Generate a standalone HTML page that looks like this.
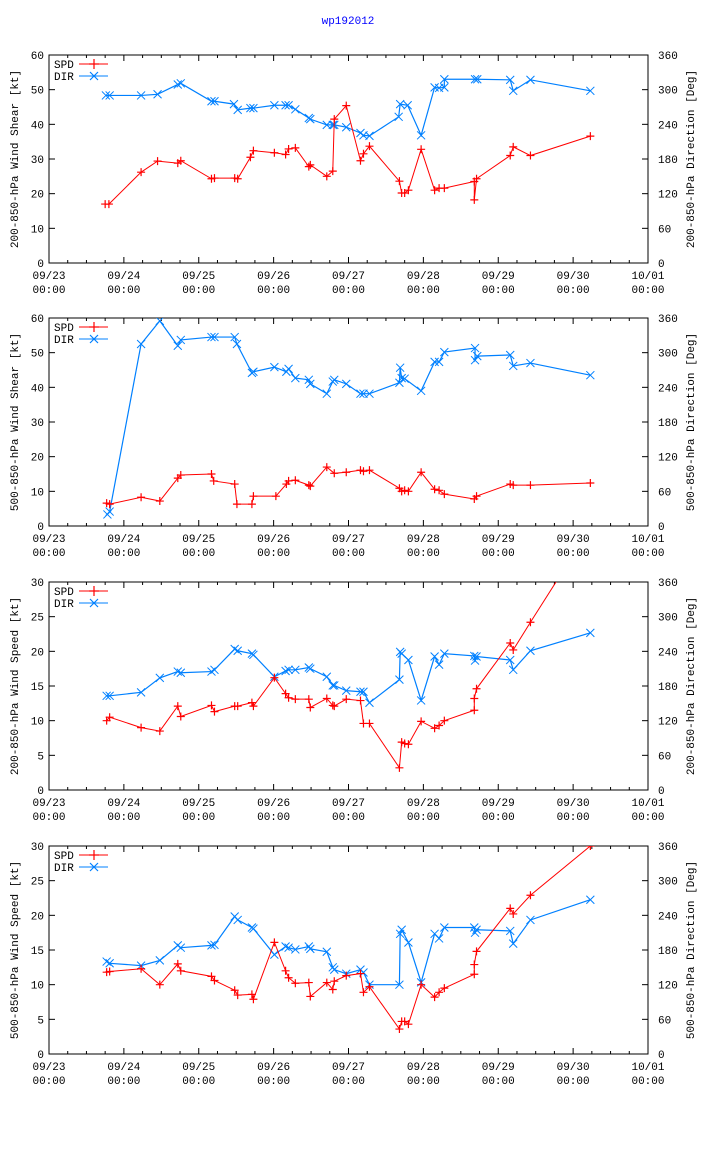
<!DOCTYPE html>
<html><head><meta charset="utf-8"><style>
body{margin:0;background:#fff;}
svg{display:block;font-family:"Liberation Mono","DejaVu Sans Mono",monospace;font-size:11px;}
</style></head><body>
<svg id="chart" width="704" height="1156" viewBox="0 0 704 1156" xmlns="http://www.w3.org/2000/svg">
<rect width="704" height="1156" fill="#fff"/>
<text x="348" y="24" text-anchor="middle" fill="#0000ff">wp192012</text>
</svg>
<script>
// Day offsets from 09/23 00:00
const xTickLabels=["09/23","09/24","09/25","09/26","09/27","09/28","09/29","09/30","10/01"];
const dirTicks=[0,60,120,180,240,300,360];
const yTitles=["200-850-hPa Wind Shear [kt]","500-850-hPa Wind Shear [kt]","200-850-hPa Wind Speed [kt]","500-850-hPa Wind Speed [kt]"];
const y2Titles=["200-850-hPa Direction [Deg]","500-850-hPa Direction [Deg]","200-850-hPa Direction [Deg]","500-850-hPa Direction [Deg]"];
const yMax=[60,60,30,30];
const yStep=[10,10,5,5];

const spd1T=[0.75,0.8,1.23,1.45,1.72,1.76,2.17,2.21,2.48,2.52,2.69,2.73,3.01,3.16,3.2,3.29,3.47,3.49,3.71,3.79,3.81,3.97,4.16,4.2,4.28,4.68,4.71,4.75,4.8,4.97,5.15,5.21,5.28,5.68,5.68,5.71,6.16,6.2,6.43,7.23];
const spd1V=[17,17,26.2,29.4,28.8,29.5,24.3,24.5,24.5,24.3,30.5,32.4,31.8,31.3,32.9,33.2,27.8,28.3,25,26.5,41.5,45.4,29.5,31.5,33.7,23.6,20.2,20.2,21,32.8,21,21.6,21.6,23.5,18.2,24.3,31,33.5,31,36.6];
const dir1T=[0.76,0.81,1.23,1.45,1.72,1.76,2.17,2.21,2.47,2.52,2.69,2.73,3.01,3.16,3.2,3.29,3.47,3.49,3.71,3.79,3.81,3.97,4.16,4.2,4.28,4.67,4.69,4.79,4.97,5.15,5.21,5.28,5.28,5.69,5.72,6.16,6.2,6.43,7.23];
const dir1V=[290,290,290,292,309,311,280,280,275,265,268,268,273,273,273,266,251,249,239,239,239,235,225,221,220,253,275,273,221,304,303,304,318,318,318,317,298,317,298];

const spd2T=[0.77,0.81,1.23,1.48,1.72,1.76,2.17,2.2,2.48,2.51,2.71,2.73,3.03,3.17,3.2,3.29,3.47,3.49,3.71,3.81,3.97,4.16,4.2,4.28,4.68,4.71,4.75,4.8,4.97,5.15,5.21,5.28,5.68,5.71,6.16,6.2,6.43,7.23];
const spd2V=[6.6,6.3,8.3,7.2,13.8,14.7,15,13,12.1,6.3,6.3,8.6,8.6,12.1,13,13.2,11.8,11.5,17,15.2,15.5,16.1,15.8,16.1,10.9,10,10.3,10,15.5,10.6,10.3,9.2,7.8,8.6,12.1,11.8,11.8,12.4];
const dir2T=[0.78,0.81,1.23,1.48,1.72,1.76,2.17,2.21,2.48,2.51,2.71,2.73,3.01,3.17,3.2,3.29,3.47,3.49,3.71,3.79,3.81,3.97,4.16,4.2,4.28,4.68,4.69,4.71,4.75,4.97,5.15,5.21,5.28,5.69,5.69,5.72,6.16,6.2,6.43,7.23];
const dir2V=[20,25,315,355,312,322,327,327,327,315,265,267,275,267,272,256,253,246,229,250,253,246,229,229,229,248,274,256,255,234,284,284,301,308,287,294,296,277,282,261];

const spd3T=[0.77,0.81,1.23,1.48,1.72,1.76,2.17,2.21,2.48,2.52,2.71,2.73,3.01,3.16,3.2,3.29,3.47,3.49,3.71,3.79,3.81,3.97,4.16,4.2,4.28,4.68,4.71,4.75,4.8,4.97,5.15,5.21,5.28,5.68,5.68,5.71,6.16,6.2,6.43,7.23];
const spd3V=[10,10.5,9,8.5,12.1,10.6,12.2,11.3,12.1,12.1,12.6,12.1,16.2,13.9,13.3,13.1,13.1,11.9,13.2,12.2,12.1,13.1,12.9,9.6,9.6,3.2,6.9,6.7,6.6,9.9,8.9,9.3,10,11.5,13.2,14.6,21.2,20.2,24.2,37.8];
const dir3T=[0.77,0.81,1.23,1.48,1.72,1.76,2.17,2.21,2.48,2.52,2.71,2.73,3.01,3.16,3.2,3.29,3.47,3.49,3.71,3.79,3.81,3.97,4.16,4.2,4.28,4.68,4.69,4.71,4.8,4.97,5.15,5.21,5.28,5.68,5.69,5.71,6.16,6.2,6.43,7.23];
const dir3V=[163,163,169,194,205,203,205,208,244,241,236,234,196,206,208,208,212,210,196,181,181,172,170,170,151,191,239,236,225,155,231,217,236,232,224,231,225,208,241,272];

const spd4T=[0.77,0.81,1.23,1.48,1.72,1.76,2.17,2.21,2.48,2.52,2.71,2.73,3.01,3.16,3.2,3.29,3.47,3.49,3.71,3.79,3.81,3.97,4.16,4.2,4.28,4.68,4.71,4.75,4.8,4.97,5.15,5.21,5.28,5.68,5.68,5.71,6.16,6.2,6.43,7.23];
const spd4V=[11.8,11.9,12.3,10,13,12,11.2,10.6,9.2,8.5,8.6,7.9,16.1,12,11,10.2,10.3,8.3,10.3,9.3,10.5,11.3,11.6,8.9,9.7,3.6,4.7,4.7,4.3,10,8.2,8.9,9.5,11.5,12.9,14.8,21,20.2,22.9,30];
const dir4T=[0.77,0.81,1.23,1.48,1.72,1.76,2.17,2.21,2.48,2.52,2.71,2.73,3.01,3.16,3.2,3.29,3.47,3.49,3.71,3.79,3.81,3.97,4.16,4.2,4.28,4.68,4.69,4.71,4.8,4.97,5.15,5.21,5.28,5.68,5.69,5.71,6.16,6.2,6.43,7.23];
const dir4V=[160,157,153,162,188,184,188,189,238,232,219,217,172,186,184,181,186,182,177,150,146,139,146,141,120,120,208,215,193,124,208,200,219,219,210,215,213,191,232,267];

const panels=[[spd1T,spd1V,dir1T,dir1V],[spd2T,spd2V,dir2T,dir2V],[spd3T,spd3V,dir3T,dir3V],[spd4T,spd4V,dir4T,dir4V]];
const tops=[55,318,582,846];
const L=49,R=648,H=208;
const svg=document.getElementById('chart');
const NS="http://www.w3.org/2000/svg";
function mk(tag,attrs,parent){const e=document.createElementNS(NS,tag);for(const k in attrs)e.setAttribute(k,attrs[k]);(parent||svg).appendChild(e);return e;}
const xS=d=>L+(R-L)*d/8;

panels.forEach((p,i)=>{
  const top=tops[i],bot=top+H;
  const yS=v=>bot-H*v/yMax[i];
  const y2S=v=>bot-H*v/360;
  const g=mk('g',{});
  
  
  for(let d=0;d<=32;d++){
    const x=xS(d/4),len=d%4===0?6:3;
    mk('line',{x1:x,y1:bot,x2:x,y2:bot-len,stroke:'#000'},g);
    mk('line',{x1:x,y1:top,x2:x,y2:top+len,stroke:'#000'},g);
  }
  xTickLabels.forEach((lab,k)=>{
    const t=mk('text',{x:xS(k),y:bot+16,'text-anchor':'middle'},g);t.textContent=lab;
    
    
    const t2=mk('text',{x:xS(k),y:bot+30,'text-anchor':'middle'},g);t2.textContent='00:00';
    
    
  });
  for(let v=0;v<=yMax[i];v+=yStep[i]){
    const y=yS(v);
    mk('line',{x1:L,y1:y,x2:L+6,y2:y,stroke:'#000'},g);
    const t=mk('text',{x:L-5,y:y+4,'text-anchor':'end'},g);t.textContent=v;
    
    
  }
  dirTicks.forEach(v=>{
    const y=y2S(v);
    mk('line',{x1:R,y1:y,x2:R-6,y2:y,stroke:'#000'},g);
    const t=mk('text',{x:R+10,y:y+4},g);t.textContent=v;
    
    
  });
  const fr=mk('rect',{x:L,y:top,width:R-L,height:H,fill:'none',stroke:'#000'},g);
  
  
  const yt=mk('text',{transform:`translate(18,${top+H/2}) rotate(-90)`,'text-anchor':'middle'},g);yt.textContent=yTitles[i];
  
  
  const y2t=mk('text',{transform:`translate(694,${top+H/2}) rotate(-90)`,'text-anchor':'middle'},g);y2t.textContent=y2Titles[i];
  
  
  const cp=mk('clipPath',{id:'cp'+i},g);mk('rect',{x:L,y:top,width:R-L,height:H},cp);
  const sg=mk('g',{'clip-path':`url(#cp${i})`},g);
  const dpts=p[2].map((t,k)=>[xS(t),y2S(p[3][k])]);
  const dl=mk('polyline',{points:dpts.map(q=>q.join(',')).join(' '),fill:'none',stroke:'#0080ff','stroke-width':1.2},sg);
  
  
  dpts.forEach(q=>{
    const m=mk('path',{d:`M${q[0]-4},${q[1]-4}L${q[0]+4},${q[1]+4}M${q[0]-4},${q[1]+4}L${q[0]+4},${q[1]-4}`,stroke:'#0080ff','stroke-width':1},sg);
    
    
  });
  const spts=p[0].map((t,k)=>[xS(t),yS(p[1][k])]);
  const sl=mk('polyline',{points:spts.map(q=>q.join(',')).join(' '),fill:'none',stroke:'#ff0000','stroke-width':1},sg);
  
  
  spts.forEach(q=>{
    const m=mk('path',{d:`M${q[0]-4},${q[1]}L${q[0]+4},${q[1]}M${q[0]},${q[1]-4}L${q[0]},${q[1]+4}`,stroke:'#ff0000','stroke-width':1.2},sg);
    
    
  });
  const lg=mk('g',{},g);
  
  
  const t1=mk('text',{x:54,y:top+13},lg);t1.textContent='SPD';
  mk('line',{x1:79,y1:top+9,x2:108,y2:top+9,stroke:'#ff0000'},lg);
  mk('path',{d:`M89,${top+9}L99,${top+9}M94,${top+4}L94,${top+14}`,stroke:'#ff0000','stroke-width':1.2},lg);
  const t2=mk('text',{x:54,y:top+25},lg);t2.textContent='DIR';
  mk('line',{x1:79,y1:top+21,x2:108,y2:top+21,stroke:'#0080ff'},lg);
  mk('path',{d:`M90,${top+17}L98,${top+25}M90,${top+25}L98,${top+17}`,stroke:'#0080ff','stroke-width':1.2},lg);
});
</script>
</body></html>
